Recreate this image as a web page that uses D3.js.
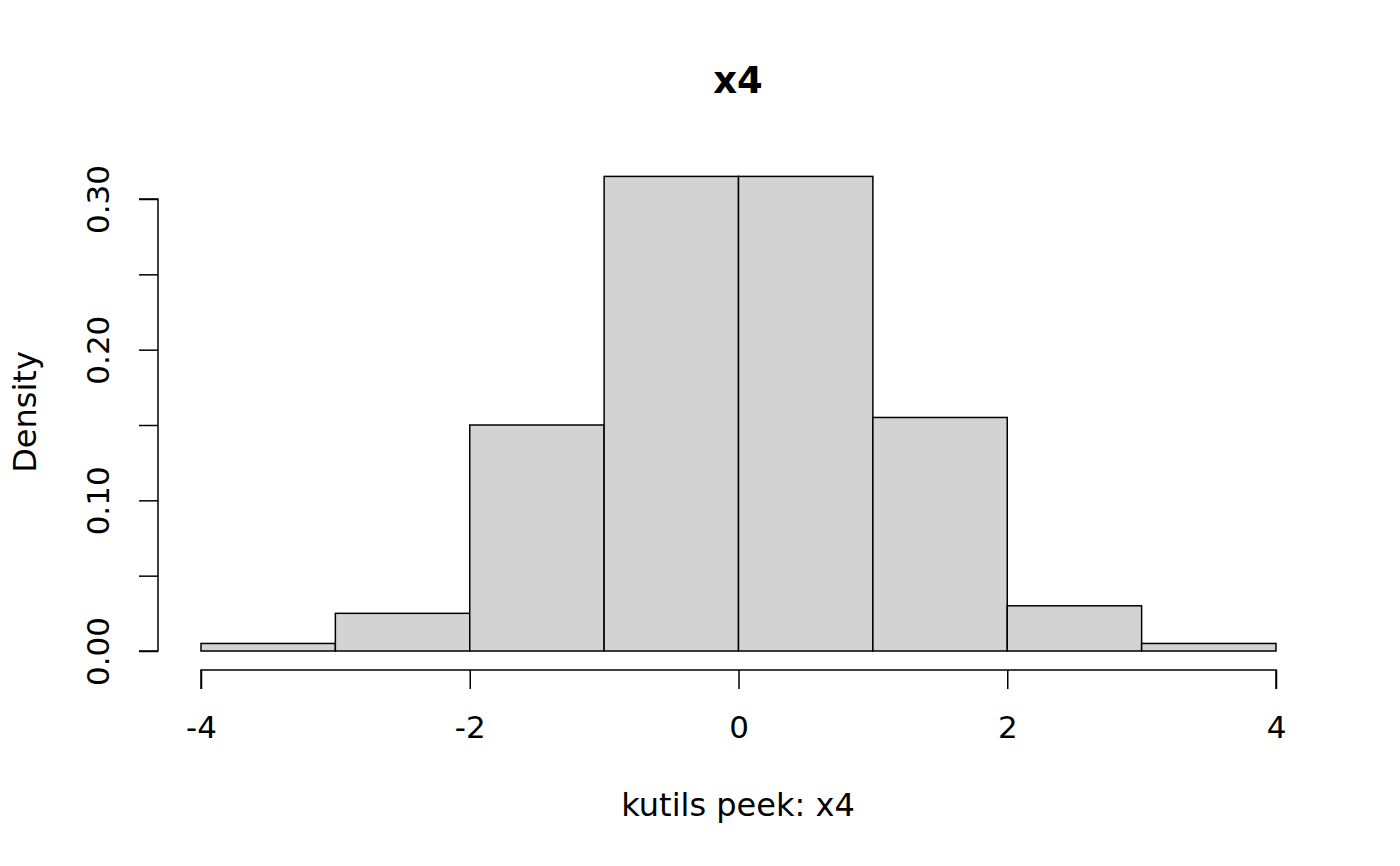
<!DOCTYPE html>
<html><head><meta charset="utf-8">
<script src="https://cdn.jsdelivr.net/npm/d3@7"></script>
<style>body{margin:0;background:#fff}svg{display:block}text{font-family:"DejaVu Sans",sans-serif;fill:#000}</style>
</head><body><svg id="c" width="1400" height="866"></svg>
<script>
const binStarts = [-4, -3, -2, -1, 0, 1, 2, 3];
const binWidth = 1;
const densities = [0.005, 0.025, 0.15, 0.315, 0.315, 0.155, 0.03, 0.005];
const xTicks = [-4, -2, 0, 2, 4];
const yTicks = [0, 0.05, 0.10, 0.15, 0.20, 0.25, 0.30];
const yLabels = [0, 0.10, 0.20, 0.30];
const title = "x4", xTitle = "kutils peek: x4", yTitle = "Density";

const svg = d3.select("#c");
const x = d3.scaleLinear().domain([-4, 4]).range([201, 1276]);
const y = d3.scaleLinear().domain([0, 0.30]).range([651, 199]);

svg.selectAll("rect.bar").data(binStarts).enter().append("rect")
  .attr("x", d => x(d)).attr("width", d => x(d + binWidth) - x(d))
  .attr("y", (d, i) => y(densities[i])).attr("height", (d, i) => y(0) - y(densities[i]))
  .attr("fill", "#d3d3d3").attr("stroke", "#000").attr("stroke-width", 1.5);

// x axis
const xa = svg.append("g").attr("transform", "translate(0,670)")
  .call(d3.axisBottom(x).tickValues(xTicks).tickSize(19).tickPadding(20).tickFormat(d => d3.format("d")(d).replace("−", "-")));
xa.select(".domain").attr("d", `M${x(-4)},19V0H${x(4)}V19`);
xa.selectAll("path,line").attr("stroke", "#000").attr("stroke-width", 1.5);
xa.selectAll("text").attr("font-size", 31).attr("font-family", "DejaVu Sans").attr("y", 46).attr("dy", "0.71em");

// y axis
const ya = svg.append("g").attr("transform", "translate(158,0)")
  .call(d3.axisLeft(y).tickValues(yTicks).tickSize(19).tickFormat(d => yLabels.some(v => Math.abs(v - d) < 1e-9) ? d3.format(".2f")(d) : ""));
ya.select(".domain").attr("d", `M-19,${y(0)}H0V${y(0.30)}H-19`);
ya.selectAll("path,line").attr("stroke", "#000").attr("stroke-width", 1.5);
ya.selectAll("text").attr("font-size", 31).attr("font-family", "DejaVu Sans")
  .attr("x", 0).attr("y", 0).attr("dy", "0.35em").attr("text-anchor", "middle")
  .attr("transform", "translate(-60,0) rotate(-90)");

svg.append("text").attr("x", 738).attr("y", 93).attr("text-anchor", "middle")
  .attr("font-size", 37).attr("font-weight", "bold").text(title);
svg.append("text").attr("x", 738).attr("y", 816).attr("text-anchor", "middle")
  .attr("font-size", 32).text(xTitle);
svg.append("text").attr("transform", "translate(36,412) rotate(-90)").attr("text-anchor", "middle")
  .attr("font-size", 32).text(yTitle);
</script></body></html>
